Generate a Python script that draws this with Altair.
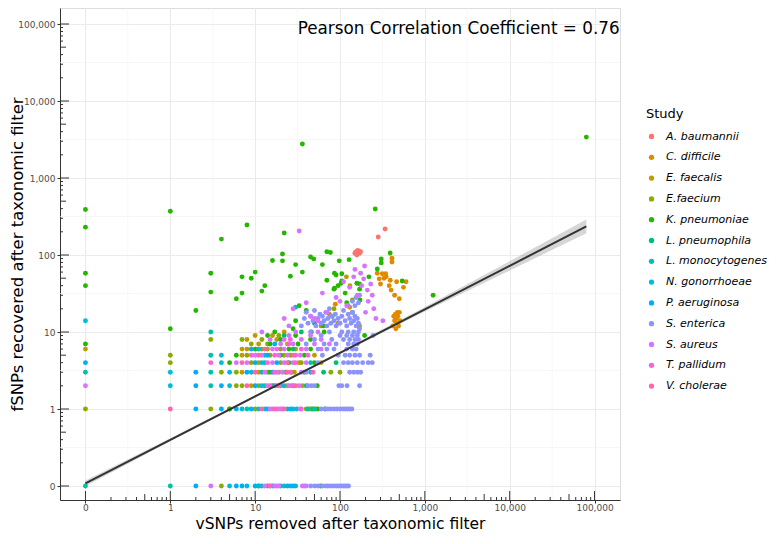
import altair as alt
import pandas as pd

SPECIES = ["A. baumannii", "C. difficile", "E. faecalis", "E.faecium", "K. pneumoniae",
           "L. pneumophila", "L. monocytogenes", "N. gonorrhoeae", "P. aeruginosa",
           "S. enterica", "S. aureus", "T. pallidum", "V. cholerae"]
COLORS = ["#F8766D", "#E18A00", "#BE9C00", "#8CAB00", "#24B700", "#00BE70", "#00C1AB",
          "#00BBDA", "#00ACFC", "#8B93FF", "#D575FE", "#F962DD", "#FF65AC"]

# (vSNPs removed, fSNPs recovered) per study
A_BAUMANNII = [(150, 105), (155, 110), (160, 112), (165, 108), (170, 105), (158, 100), (162, 115),
               (168, 112), (175, 110), (152, 108), (340, 218), (282, 171)]
C_DIFFICILE = [(275, 58), (315, 57), (345, 57), (330, 50), (391, 47), (465, 45), (560, 38), (600, 45),
               (410, 91), (410, 81), (500, 27), (420, 12), (440, 14), (460, 15), (480, 16), (500, 18),
               (470, 13), (450, 17), (490, 12), (510, 14), (430, 16), (455, 11), (475, 18), (300, 42),
               (350, 52), (290, 49), (130, 21), (88, 23), (380, 40), (440, 30), (400, 35)]
E_FAECALIS = [(44, 1), (52, 1), (5, 1), (9, 2), (24, 2), (36, 2), (7, 3), (11, 3), (19, 3), (29, 3),
              (11, 4), (33, 4), (60, 4), (7, 5), (22, 5), (50, 5), (0, 6), (7, 6), (8, 6), (14, 6), (30, 6),
              (11, 7), (24, 7), (8, 8), (18, 8), (10, 9), (16, 9), (22, 10), (119, 52), (131, 40),
              (95, 13), (75, 17), (170, 12)]
E_FAECIUM = [(4, 0), (0, 1), (3, 1), (10, 1), (40, 1), (46, 1), (6, 2), (7, 2), (11, 2), (20, 2),
             (4, 3), (6, 3), (14, 3), (27, 3), (78, 3), (100, 3), (1, 4), (9, 4), (20, 4), (35, 4),
             (1, 5), (8, 5), (15, 5), (26, 5), (12, 6), (20, 6), (9, 7), (14, 7), (3, 8), (7, 8), (12, 8),
             (19, 9), (60, 12), (85, 20), (140, 26)]
K_PNEUMONIAE = [(0, 390), (0, 230), (0, 58), (0, 40), (0, 7), (1, 370), (1, 11), (2, 19), (3, 58), (3, 33),
                (4, 161), (8, 245), (22, 193), (21, 103), (21, 84), (16, 85), (7, 52), (9, 50), (10, 60),
                (7, 32), (13, 40), (12, 34), (6, 27), (30, 75), (26, 53), (36, 60), (36, 2770), (45, 94),
                (49, 89), (70, 110), (77, 108), (62, 75), (98, 84), (128, 87), (70, 47), (90, 55), (105, 57),
                (103, 43), (95, 40), (86, 37), (115, 32), (158, 43), (219, 52), (275, 66), (260, 395),
                (390, 106), (306, 89), (306, 79), (1250, 30), (540, 46), (86, 58), (105, 46), (85, 36),
                (170, 42), (170, 36), (172, 26), (81, 16), (40, 19), (64, 12), (195, 9), (46, 10), (30, 14),
                (54, 2), (67, 1), (59, 0), (11, 0), (5, 1), (55, 1), (5, 4), (25, 4), (50, 4), (6, 5),
                (20, 5), (38, 5), (10, 6), (25, 6), (45, 6), (15, 7), (32, 7), (20, 8), (45, 8), (14, 9),
                (30, 9), (17, 10), (65, 10), (16, 2), (15, 3), (23, 3), (38, 3), (120, 24), (140, 18),
                (33, 22), (28, 11), (80000, 3400)]
L_PNEUMOPHILA = [(48, 1), (40, 2), (64, 3), (28, 6), (35, 10), (50, 13), (22, 9), (90, 4)]
L_MONOCYTOGENES = [(0, 0), (1, 0), (11, 0), (14, 0), (22, 0), (30, 0), (8, 1), (24, 1), (42, 1), (50, 1),
                   (3, 2), (13, 2), (28, 2), (0, 3), (3, 3), (12, 3), (13, 4), (45, 4), (3, 5), (3, 10),
                   (30, 21)]
N_GONORRHOEAE = [(5, 0), (8, 0), (12, 0), (20, 0), (26, 0), (7, 1), (11, 1), (13, 1), (28, 1), (31, 1),
                 (1, 2), (5, 2), (12, 2), (22, 2), (1, 3), (5, 3), (9, 3), (4, 4), (12, 4), (4, 5), (13, 5),
                 (11, 6), (0, 14)]
P_AERUGINOSA = [(2, 0), (6, 0), (7, 0), (10, 0), (16, 0), (24, 0), (28, 0), (2, 1), (4, 1), (6, 1), (9, 1),
                (14, 1), (26, 1), (2, 2), (4, 2), (10, 2), (17, 2), (2, 3), (8, 3), (16, 3), (45, 3),
                (10, 4), (18, 4), (14, 5), (9, 6), (17, 7), (0, 4)]
S_ENTERICA = [(38, 0), (45, 0), (50, 0), (55, 0), (62, 0), (68, 0), (72, 0), (78, 0), (84, 0), (90, 0),
              (96, 0), (102, 0), (108, 0), (114, 0), (120, 0), (126, 0),
              (60, 1), (66, 1), (72, 1), (78, 1), (85, 1), (92, 1), (100, 1), (108, 1), (115, 1), (122, 1),
              (130, 1), (138, 1),
              (42, 2), (46, 2), (50, 2), (97, 2), (105, 2), (121, 2), (170, 2),
              (40, 3), (130, 3), (145, 3), (160, 3), (175, 3),
              (55, 4), (110, 4), (125, 4), (140, 4), (160, 4), (185, 4), (215, 4), (240, 4),
              (62, 5), (95, 5), (115, 5), (130, 5), (150, 5), (170, 5), (227, 5),
              (55, 6), (70, 6), (85, 6), (120, 6), (140, 6), (155, 6),
              (40, 7), (65, 7), (90, 7), (125, 7), (145, 7), (160, 7),
              (50, 8), (80, 8), (110, 8), (130, 8), (150, 8), (165, 8),
              (60, 9), (100, 9), (120, 9), (140, 9), (160, 9), (245, 9),
              (45, 10), (75, 10), (105, 10), (125, 10), (145, 10), (165, 10),
              (35, 12), (38, 15), (40, 18), (42, 13), (45, 16), (48, 14), (50, 19), (52, 12), (55, 15),
              (58, 17), (60, 13), (62, 16), (65, 14), (68, 18), (70, 12), (72, 15), (75, 20), (78, 13),
              (80, 16), (85, 14), (88, 17), (90, 12), (95, 15), (100, 13), (105, 16), (110, 19), (115, 14),
              (120, 12), (125, 17), (130, 15), (135, 13), (140, 18), (145, 14), (150, 16), (155, 12),
              (160, 15), (165, 13), (170, 11), (140, 25), (155, 28), (165, 24), (170, 30), (150, 22),
              (125, 22)]
S_AUREUS = [(3, 0), (13, 0), (15, 0), (17, 0), (18, 0), (19, 0), (36, 0), (40, 0),
            (15, 1), (16, 1), (18, 1), (19, 1), (20, 1), (34, 1),
            (0, 2), (14, 2), (19, 2), (25, 2), (33, 2), (13, 3), (18, 3), (21, 3), (35, 3),
            (6, 4), (8, 4), (16, 4), (22, 4), (28, 4), (40, 4), (10, 5), (12, 5), (19, 5), (24, 5), (34, 5),
            (16, 6), (22, 6), (40, 6), (60, 6), (20, 7), (28, 7), (50, 7), (75, 7),
            (15, 8), (22, 8), (35, 8), (60, 8), (25, 9), (45, 9), (12, 10), (30, 10), (55, 10),
            (33, 205), (62, 32), (195, 72), (145, 52), (190, 49), (215, 25), (320, 14), (265, 15),
            (210, 35), (230, 42), (180, 40), (160, 30), (240, 30), (250, 20), (120, 22), (100, 25),
            (70, 18), (200, 18), (130, 38), (40, 24), (25, 12), (22, 15), (28, 20), (90, 28), (110, 45),
            (175, 58), (150, 65), (50, 15), (55, 14), (45, 16)]
T_PALLIDUM = [(21, 1), (35, 1), (15, 2), (27, 2), (17, 3), (26, 3), (3, 4), (14, 4), (30, 4),
              (9, 5), (17, 5), (30, 5), (42, 5), (18, 6), (35, 6), (25, 7), (26, 8)]
V_CHOLERAE = [(15, 0), (1, 1), (12, 1), (17, 1), (22, 1), (8, 2), (18, 2), (30, 2), (10, 3), (24, 3),
              (48, 3), (7, 4), (24, 4), (11, 5), (28, 5), (13, 6)]

STUDY_POINTS = [A_BAUMANNII, C_DIFFICILE, E_FAECALIS, E_FAECIUM, K_PNEUMONIAE, L_PNEUMOPHILA,
                L_MONOCYTOGENES, N_GONORRHOEAE, P_AERUGINOSA, S_ENTERICA, S_AUREUS, T_PALLIDUM,
                V_CHOLERAE]

# log-log linear fit and its confidence band
FIT_X = [0.1, 1, 10, 100, 1000, 10000, 80000]
FIT_Y = [0.108, 0.398, 1.46, 5.37, 19.7, 72.4, 235]
FIT_LO = [0.099, 0.38, 1.41, 5.19, 18.4, 63, 191]
FIT_HI = [0.118, 0.417, 1.51, 5.56, 21.1, 83, 289]

MAJOR = [0.1, 1, 10, 100, 1000, 10000, 100000]
MINOR_GRID = [0.316, 3.16, 31.6, 316, 3162, 31623]
MID_TICKS = [0.5, 5, 50, 500, 5000, 50000]
SHORT_TICKS = [m * d for d in [0.1, 1, 10, 100, 1000, 10000] for m in [2, 3, 4, 6, 7, 8, 9]]

ANNOT_X = [2500]
ANNOT_Y = [86000]
ANNOT_TEXT = ["Pearson Correlation Coefficient = 0.76"]

W, H = 560, 492
FONT = "DejaVu Sans"

rows = [{"Study": s, "vSNPs": x, "fSNPs": y}
        for s, pts in zip(SPECIES, STUDY_POINTS) for x, y in pts]
pts_df = pd.DataFrame(rows)
fit_df = pd.DataFrame({"x": FIT_X, "y": FIT_Y, "lo": FIT_LO, "hi": FIT_HI})

xscale = alt.Scale(type="log", domain=[10 ** -1.3, 10 ** 5.3], nice=False, zero=False)
yscale = alt.Scale(type="log", domain=[10 ** -1.1818, 10 ** 5.2078], nice=False, zero=False)
label_expr = "datum.value < 0.5 ? '0' : format(datum.value, ',')"

xaxis = alt.Axis(values=MAJOR, labelExpr=label_expr, title="vSNPs removed after taxonomic filter",
                 titleFontSize=15.5, titleFontWeight="normal", titleColor="#000", titleFont=FONT,
                 titleY=28.3, titleBaseline="alphabetic", titleAnchor="middle",
                 labelFont=FONT, labelFontSize=9, labelColor="#4D4D4D", labelPadding=0,
                 tickSize=3, tickColor="#333", domainColor="#333", gridColor="#EBEBEB",
                 labelFlush=False, labelOverlap=False)
yaxis = alt.Axis(values=MAJOR, labelExpr=label_expr, title="fSNPs recovered after taxonomic filter",
                 titleFontSize=16.5, titleFontWeight="normal", titleColor="#000", titleFont=FONT,
                 titleX=-43, titleY=H / 2, titleAngle=270, titleAlign="center", titleBaseline="middle",
                 labelFont=FONT, labelFontSize=9, labelColor="#4D4D4D", labelPadding=2,
                 tickSize=3, tickColor="#333", domainColor="#333", gridColor="#EBEBEB",
                 labelFlush=False, labelOverlap=False)

minor_x = alt.Chart(pd.DataFrame({"v": MINOR_GRID})).mark_rule(color="#F2F2F2", strokeWidth=0.6).encode(
    x=alt.X("v:Q", scale=xscale, axis=xaxis))
minor_y = alt.Chart(pd.DataFrame({"v": MINOR_GRID})).mark_rule(color="#F2F2F2", strokeWidth=0.6).encode(
    y=alt.Y("v:Q", scale=yscale, axis=yaxis))

band = alt.Chart(fit_df).mark_area(color="#999999", opacity=0.4).encode(
    x=alt.X("x:Q", scale=xscale, axis=xaxis), y=alt.Y("lo:Q", scale=yscale, axis=yaxis), y2="hi:Q")

points = alt.Chart(pts_df).transform_calculate(
    px="datum.vSNPs == 0 ? 0.1 : datum.vSNPs",
    py="datum.fSNPs == 0 ? 0.1 : datum.fSNPs",
).mark_circle(size=24, opacity=1).encode(
    x=alt.X("px:Q", scale=xscale, axis=xaxis),
    y=alt.Y("py:Q", scale=yscale, axis=yaxis),
    color=alt.Color("Study:N", scale=alt.Scale(domain=SPECIES, range=COLORS),
                    legend=alt.Legend(title="Study", orient="none", legendX=586, legendY=100,
                                      padding=0, titleFont=FONT, titleFontSize=13,
                                      titleFontWeight="normal", titleColor="#000", titlePadding=10,
                                      labelFont=FONT, labelFontSize=11, labelFontStyle="italic",
                                      labelColor="#000", labelOffset=9, rowPadding=8.8,
                                      symbolType="circle", symbolSize=28, symbolStrokeWidth=0,
                                      symbolOpacity=1, labelLimit=200)),
)

line = alt.Chart(fit_df).mark_line(color="#333333", strokeWidth=2).encode(
    x=alt.X("x:Q", scale=xscale, axis=xaxis), y=alt.Y("y:Q", scale=yscale, axis=yaxis))

tick_layers = []
for vals, ln in [(MAJOR, 9), (MID_TICKS, 6), (SHORT_TICKS, 3)]:
    d = pd.DataFrame({"v": vals})
    tick_layers.append(alt.Chart(d).mark_rule(color="#333", strokeWidth=1).encode(
        x=alt.X("v:Q", scale=xscale, axis=xaxis), y=alt.value(H), y2=alt.value(H - ln)))
    tick_layers.append(alt.Chart(d).mark_rule(color="#333", strokeWidth=1).encode(
        y=alt.Y("v:Q", scale=yscale, axis=yaxis), x=alt.value(0), x2=alt.value(ln)))

annot = alt.Chart(pd.DataFrame({"x": ANNOT_X, "y": ANNOT_Y, "t": ANNOT_TEXT})).mark_text(
    font=FONT, fontSize=16.8, color="#000", align="center", baseline="middle").encode(
    x=alt.X("x:Q", scale=xscale, axis=xaxis), y=alt.Y("y:Q", scale=yscale, axis=yaxis), text="t:N")

chart = alt.layer(minor_x, minor_y, band, points, line, *tick_layers, annot).properties(
    width=W, height=H,
    autosize=alt.AutoSizeParams(type="none"),
    padding={"left": 52, "top": 0, "right": 150, "bottom": 32},
).configure_view(stroke="#333", strokeWidth=1).configure(background="white")

chart.save("out.html", embed_options={"renderer": "svg", "actions": False})
